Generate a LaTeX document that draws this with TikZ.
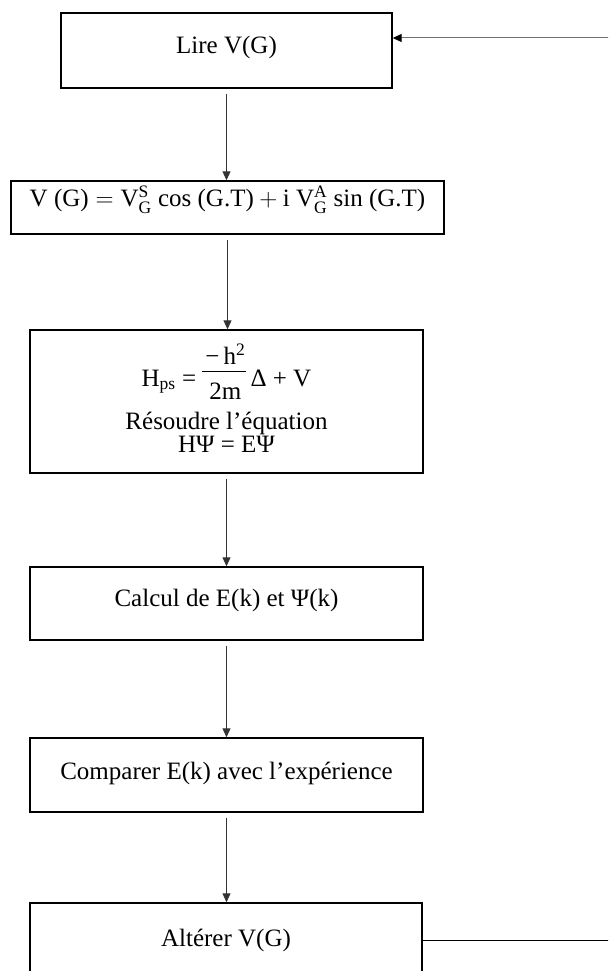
\RequirePackage{fix-cm}
\documentclass[tikz,border=0pt]{standalone}
\usepackage{amsmath}
\usepackage{fontspec}
\setmainfont{Liberation Serif}
\usetikzlibrary{arrows.meta,calc}
\begin{document}
\begin{tikzpicture}[x=1pt,y=-1pt,
  box/.style={draw=black,line width=1.4pt,rectangle,inner sep=0pt,align=center,
    font=\fontsize{25}{23}\selectfont},
  flow/.style={draw=black!80,line width=0.9pt,shorten <=5pt,
    -{Triangle[length=9pt,width=8pt]}},
  backline/.style={draw=black,line width=1.3pt},
  backarrow/.style={draw=black!55,line width=1pt,-{Triangle[length=9pt,width=8pt,color=black]}},
]
\useasboundingbox (0,0) rectangle (608,971);
\clip (0,0) rectangle (608,971);

\node[box,minimum width=331pt,minimum height=75pt] (b1) at (226.5,50.5)
  {\raisebox{3pt}[\height][\depth]{Lire V(G)}};
\node[box,minimum width=433pt,minimum height=53pt] (b2) at (227.5,207.5)
  {\raisebox{8pt}[\height][\depth]{$\text{V (G)} = \text{V}^{\text{S}}_{\text{G}}\ \text{cos (G.T)} + \text{i V}^{\text{A}}_{\text{G}}\ \text{sin (G.T)}$}};
\node[box,minimum width=393pt,minimum height=143pt] (b3) at (226.5,401.5)
  {\setlength\arrayrulewidth{1.2pt}%
   \begin{tabular}{@{}c@{}}
   H\textsubscript{ps} = \raisebox{22pt}{\begin{tabular}[t]{@{\hspace{3pt}}c@{\hspace{1pt}}}−\,h\textsuperscript{2}\\\hline\rule{0pt}{27pt}2m\end{tabular}}\,Δ + V\\[19pt]
   Résoudre l’équation\\
   HΨ = EΨ
   \end{tabular}};
\node[box,minimum width=393pt,minimum height=73pt] (b4) at (226.5,603.5)
  {\raisebox{3pt}[\height][\depth]{Calcul de E(k) et Ψ(k)}};
\node[box,minimum width=393pt,minimum height=74pt] (b5) at (226.5,775)
  {\raisebox{2pt}[\height][\depth]{Comparer E(k) avec l’expérience}};
\node[box,minimum width=392pt,minimum height=75pt] (b6) at (226,940.5)
  {Altérer V(G)};

\draw[flow] (b1.south) -- (b1.south |- b2.north);
\draw[flow] (b2.south) -- (b2.south |- b3.north);
\draw[flow] (b3.south) -- (b3.south |- b4.north);
\draw[flow] (b4.south) -- (b4.south |- b5.north);
\draw[flow] (b5.south) -- (b5.south |- b6.north);

\coordinate (rb) at (650,940.5);
\coordinate (rt) at (650,38);
\draw[backline] (b6.east) -- (rb) -- (rt);
\draw[backarrow] (rt) -- (rt -| b1.east);
\end{tikzpicture}
\end{document}
